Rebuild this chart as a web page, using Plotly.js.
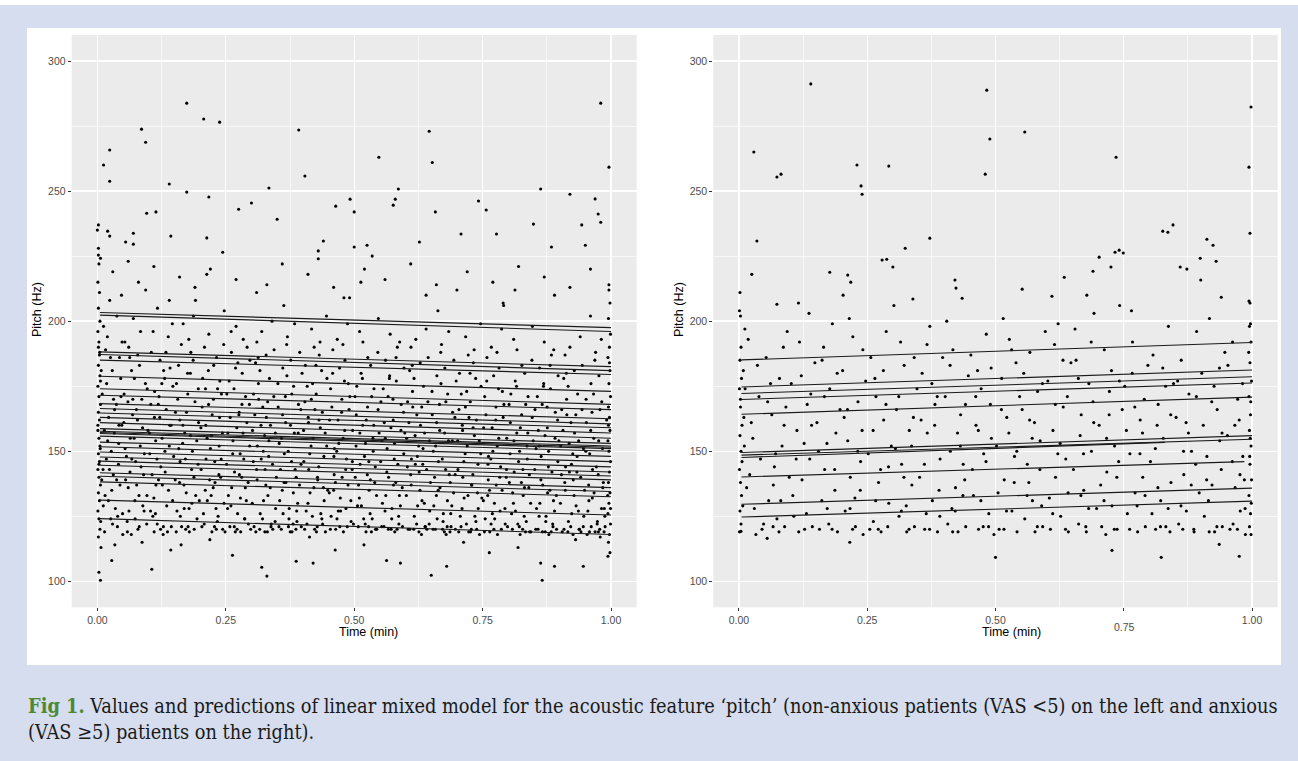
<!DOCTYPE html>
<html>
<head>
<meta charset="utf-8">
<script src="https://cdn.plot.ly/plotly-3.0.1.min.js"></script>
<style>
html,body{margin:0;padding:0;background:#ffffff;}
#chart{width:1298px;height:761px;}
</style>
</head>
<body>
<div id="chart"></div>
<script>
// ---------- DATA ----------
// Left panel (non-anxious, VAS < 5): [time (min), pitch (Hz)]
const leftPoints = [
// start strip
[0.002,228],[0.003,222],[0.001,215],[0.004,211],[0.002,205],[0.005,200],[0.001,196],[0.003,192],[0.004,187],[0.002,183],[0.005,179],[0.001,175],[0.003,171],[0.006,168],[0.002,165],[0.004,162],[0.001,158],[0.003,155],[0.005,152],[0.002,149],[0.004,146],[0.001,143],[0.003,140],[0.006,137],[0.002,134],[0.004,131],[0.001,127],[0.003,124],[0.005,120],[0.002,117],[0.007,113],[0.001,160],[0.006,177],[0.003,145],[0.002,190],
[0.012,198],[0.018,176],[0.022,163],[0.027,150],[0.031,141],[0.035,128],[0.039,121],[0.043,186],[0.046,171],[0.015,133],[0.024,208],[0.033,157],[0.041,145],[0.048,192],[0.014,119],[0.029,181],[0.037,168],[0.044,137],[0.02,154],[0.026,124],[0.047,210],[0.038,202],[0.011,143],[0.034,114],[0.042,160],[0.016,189],[0.028,135],[0.049,126],
[0.052,172],[0.055,139],[0.058,123],[0.061,190],[0.064,155],[0.067,147],[0.07,201],[0.073,131],[0.076,166],[0.079,120],[0.082,183],[0.085,144],[0.088,159],[0.091,127],[0.094,212],[0.097,174],[0.054,151],[0.06,136],[0.066,118],[0.072,178],[0.078,162],[0.084,196],[0.09,141],[0.096,122],[0.063,186],[0.081,133],[0.069,170],[0.087,115],
[0.102,149],[0.105,188],[0.108,125],[0.111,163],[0.114,137],[0.117,205],[0.12,171],[0.123,120],[0.126,155],[0.129,181],[0.132,142],[0.135,129],[0.138,194],[0.141,160],[0.144,121],[0.147,175],[0.104,168],[0.11,132],[0.116,147],[0.122,185],[0.128,118],[0.134,166],[0.14,152],[0.146,199],[0.113,126],[0.131,178],[0.119,139],[0.143,112],
[0.152,165],[0.155,127],[0.158,183],[0.161,146],[0.164,121],[0.167,199],[0.17,157],[0.173,134],[0.176,172],[0.179,119],[0.182,188],[0.185,150],[0.188,140],[0.191,208],[0.194,124],[0.197,161],[0.154,176],[0.16,138],[0.166,153],[0.172,120],[0.178,193],[0.184,130],[0.19,169],[0.196,145],[0.163,114],[0.181,180],[0.169,128],[0.187,202],
[0.202,143],[0.205,178],[0.208,122],[0.211,160],[0.214,131],[0.217,195],[0.22,151],[0.223,119],[0.226,170],[0.229,138],[0.232,186],[0.235,125],[0.238,163],[0.241,147],[0.244,120],[0.247,204],[0.204,167],[0.21,135],[0.216,181],[0.222,156],[0.228,121],[0.234,174],[0.24,140],[0.246,191],[0.213,218],[0.231,128],[0.219,116],[0.237,152],
[0.252,172],[0.255,133],[0.258,121],[0.261,188],[0.264,154],[0.267,142],[0.27,198],[0.273,126],[0.276,165],[0.279,119],[0.282,180],[0.285,147],[0.288,136],[0.291,161],[0.294,122],[0.297,185],[0.254,157],[0.26,129],[0.266,174],[0.272,120],[0.278,149],[0.284,193],[0.29,131],[0.296,168],[0.263,110],[0.281,140],[0.269,182],[0.287,124],
[0.302,158],[0.305,121],[0.308,184],[0.311,139],[0.314,170],[0.317,126],[0.32,196],[0.323,150],[0.326,119],[0.329,163],[0.332,133],[0.335,178],[0.338,121],[0.341,145],[0.344,189],[0.347,128],[0.304,172],[0.31,143],[0.316,120],[0.322,167],[0.328,137],[0.334,154],[0.34,200],[0.346,123],[0.313,186],[0.331,119],[0.319,147],[0.337,160],
[0.352,167],[0.355,131],[0.358,120],[0.361,182],[0.364,149],[0.367,138],[0.37,194],[0.373,124],[0.376,160],[0.379,119],[0.382,175],[0.385,143],[0.388,127],[0.391,157],[0.394,188],[0.397,121],[0.354,153],[0.36,135],[0.366,171],[0.372,121],[0.378,146],[0.384,199],[0.39,130],[0.396,166],[0.363,206],[0.381,122],[0.369,179],[0.387,140],
[0.402,146],[0.405,183],[0.408,122],[0.411,161],[0.414,134],[0.417,197],[0.42,155],[0.423,120],[0.426,172],[0.429,139],[0.432,187],[0.435,126],[0.438,165],[0.441,148],[0.444,119],[0.447,178],[0.404,169],[0.41,130],[0.416,152],[0.422,190],[0.428,121],[0.434,159],[0.44,136],[0.446,202],[0.413,117],[0.431,144],[0.419,176],[0.437,124],
[0.452,162],[0.455,125],[0.458,180],[0.461,141],[0.464,120],[0.467,193],[0.47,153],[0.473,132],[0.476,170],[0.479,119],[0.482,185],[0.485,147],[0.488,137],[0.491,209],[0.494,123],[0.497,158],[0.454,174],[0.46,135],[0.466,150],[0.472,121],[0.478,191],[0.484,128],[0.49,166],[0.496,143],[0.463,112],[0.481,177],[0.469,127],[0.487,199],
[0.502,140],[0.505,175],[0.508,121],[0.511,157],[0.514,129],[0.517,192],[0.52,148],[0.523,119],[0.526,167],[0.529,135],[0.532,183],[0.535,124],[0.538,160],[0.541,144],[0.544,120],[0.547,201],[0.504,164],[0.51,132],[0.516,178],[0.522,153],[0.528,121],[0.534,171],[0.54,138],[0.546,188],[0.513,215],[0.531,126],[0.519,114],[0.537,150],
[0.552,169],[0.555,130],[0.558,121],[0.561,185],[0.564,151],[0.567,140],[0.57,195],[0.573,124],[0.576,162],[0.579,119],[0.582,177],[0.585,145],[0.588,133],[0.591,158],[0.594,121],[0.597,182],[0.554,154],[0.56,127],[0.566,171],[0.572,120],[0.578,147],[0.584,190],[0.59,129],[0.596,165],[0.563,108],[0.581,138],[0.569,179],[0.587,122],
[0.602,155],[0.605,120],[0.608,181],[0.611,137],[0.614,167],[0.617,125],[0.62,193],[0.623,148],[0.626,119],[0.629,160],[0.632,131],[0.635,175],[0.638,121],[0.641,143],[0.644,186],[0.647,127],[0.604,169],[0.61,141],[0.616,120],[0.622,164],[0.628,135],[0.634,151],[0.64,197],[0.646,122],[0.613,183],[0.631,118],[0.619,145],[0.637,157],
[0.652,164],[0.655,129],[0.658,120],[0.661,179],[0.664,146],[0.667,136],[0.67,191],[0.673,123],[0.676,157],[0.679,118],[0.682,172],[0.685,141],[0.688,126],[0.691,154],[0.694,185],[0.697,120],[0.654,150],[0.66,133],[0.666,168],[0.672,120],[0.678,143],[0.684,196],[0.69,129],[0.696,163],[0.663,204],[0.681,121],[0.669,176],[0.687,138],
[0.702,143],[0.705,180],[0.708,121],[0.711,158],[0.714,132],[0.717,194],[0.72,152],[0.723,119],[0.726,169],[0.729,137],[0.732,184],[0.735,125],[0.738,162],[0.741,145],[0.744,118],[0.747,175],[0.704,166],[0.71,128],[0.716,149],[0.722,187],[0.728,120],[0.734,156],[0.74,134],[0.746,199],[0.713,115],[0.731,141],[0.719,173],[0.737,123],
[0.752,159],[0.755,124],[0.758,177],[0.761,139],[0.764,119],[0.767,190],[0.77,150],[0.773,130],[0.776,167],[0.779,118],[0.782,182],[0.785,144],[0.788,135],[0.791,206],[0.794,122],[0.797,155],[0.754,171],[0.76,133],[0.766,147],[0.772,120],[0.778,188],[0.784,127],[0.79,163],[0.796,140],[0.763,111],[0.781,174],[0.769,126],[0.787,197],
[0.802,138],[0.805,172],[0.808,120],[0.811,154],[0.814,127],[0.817,189],[0.82,146],[0.823,118],[0.826,164],[0.829,133],[0.832,180],[0.835,123],[0.838,157],[0.841,141],[0.844,119],[0.847,198],[0.804,161],[0.81,130],[0.816,175],[0.822,150],[0.828,120],[0.834,168],[0.84,136],[0.846,185],[0.813,212],[0.831,125],[0.819,113],[0.837,147],
[0.852,166],[0.855,128],[0.858,120],[0.861,182],[0.864,148],[0.867,137],[0.87,192],[0.873,123],[0.876,159],[0.879,118],[0.882,174],[0.885,142],[0.888,131],[0.891,155],[0.894,120],[0.897,179],[0.854,151],[0.86,125],[0.866,168],[0.872,119],[0.878,144],[0.884,187],[0.89,127],[0.896,162],[0.863,107],[0.881,135],[0.869,176],[0.887,121],
[0.902,152],[0.905,119],[0.908,178],[0.911,135],[0.914,164],[0.917,123],[0.92,190],[0.923,145],[0.926,118],[0.929,157],[0.932,129],[0.935,172],[0.938,120],[0.941,140],[0.944,183],[0.947,125],[0.904,166],[0.91,138],[0.916,119],[0.922,161],[0.928,133],[0.934,148],[0.94,194],[0.946,121],[0.913,180],[0.931,116],[0.919,142],[0.937,154],
[0.952,161],[0.955,127],[0.958,119],[0.961,176],[0.964,143],[0.967,134],[0.97,188],[0.973,122],[0.976,154],[0.979,117],[0.982,169],[0.985,138],[0.988,125],[0.951,150],[0.957,131],[0.963,165],[0.969,119],[0.975,141],[0.981,193],[0.987,128],[0.96,202],[0.978,120],[0.966,172],[0.984,136],
// end strip
[0.996,214],[0.998,207],[0.995,201],[0.999,195],[0.997,190],[0.994,186],[0.998,181],[0.996,176],[0.999,171],[0.995,167],[0.997,163],[0.998,158],[0.994,154],[0.996,150],[0.999,146],[0.997,142],[0.995,138],[0.998,134],[0.996,130],[0.994,126],[0.999,122],[0.997,118],[0.995,115],[0.998,111],[0.996,212],[0.997,184],[0.995,160],[0.999,128],
// 205-225 zone
[0.03,219],[0.08,215],[0.11,221],[0.16,217],[0.19,213],[0.22,220],[0.27,216],[0.33,214],[0.36,222],[0.41,218],[0.46,213],[0.52,220],[0.56,216],[0.61,222],[0.66,214],[0.72,219],[0.77,215],[0.82,221],[0.87,217],[0.92,213],[0.96,220],[0.14,208],[0.31,211],[0.48,209],[0.64,210],[0.79,207],[0.89,210],[0.06,223],[0.43,224],[0.7,212],
// high and low outliers
[0.003,103.5],[0.006,100.4],[0.028,108],[0.106,104.6],[0.32,105.4],[0.33,102],[0.387,107.7],[0.42,107],[0.59,107],[0.65,102.3],[0.68,105.8],[0.866,100.4],[0.89,105.8],[0.946,105.8],[0.994,109.6],
[0.174,283.8],[0.207,277.7],[0.238,276.5],[0.086,273.8],[0.094,268.8],[0.392,273.5],[0.646,273],[0.012,260],[0.024,265.8],[0.024,253.8],[0.652,261],[0.548,263],[0.14,252.7],[0.174,249.6],[0.217,247.7],[0.334,251.2],[0.404,255.8],[0.586,250.8],[0.58,246.9],[0.576,244.6],[0.492,246.9],[0.464,244.2],[0.5,242],[0.30,245.4],[0.275,243],[0.096,241.5],[0.114,242],[0.35,239.2],[0.658,242],[0.742,246.2],[0.757,242.7],[0.863,250.8],[0.92,248.8],[0.969,247],[0.98,238],[0.98,283.8],[0.996,259.2],
[0.0,235],[0.002,237],[0.006,224.2],[0.002,225.4],[0.02,234.6],[0.024,232.7],[0.055,230.4],[0.07,229.6],[0.07,233.8],[0.143,232.7],[0.213,232],[0.244,226.5],[0.43,227],[0.44,230.8],[0.5,228.5],[0.525,229.2],[0.535,225],[0.627,230.4],[0.708,233.5],[0.777,233.5],[0.849,237.3],[0.884,228.5],[0.943,237],[0.95,229.2],[0.975,241.2]
];

// Further left-panel points in the dense band
const leftPointsDense = [
[0.0095,172],[0.0135,158],[0.0175,147],[0.0215,131],[0.0255,186],[0.0295,122],[0.0335,166],[0.0375,139],[0.0415,153],[0.0455,178],[0.0495,118],[0.0115,129],[0.0195,194],[0.0235,143],[0.0315,170],[0.0395,125],[0.0475,160],[0.0075,181],[0.0055,151],[0.0085,139],[0.0065,123],[0.0045,188],
[0.0515,161],[0.0565,148],[0.0615,127],[0.0665,181],[0.0715,155],[0.0765,137],[0.0815,121],[0.0865,170],[0.0915,149],[0.0965,133],[0.0535,192],[0.0585,119],[0.0635,142],[0.0685,164],[0.0735,124],[0.0785,187],[0.0835,152],[0.0885,129],[0.0935,176],[0.0985,158],[0.0595,169],[0.0745,146],
[0.1015,157],[0.1065,141],[0.1115,173],[0.1165,122],[0.1215,163],[0.1265,137],[0.1315,150],[0.1365,119],[0.1415,182],[0.1465,131],[0.1035,127],[0.1085,196],[0.1135,154],[0.1185,168],[0.1235,144],[0.1285,121],[0.1335,188],[0.1385,135],[0.1435,160],[0.1485,148],[0.1255,176],[0.1105,119],
[0.1515,139],[0.1565,170],[0.1615,125],[0.1665,160],[0.1715,147],[0.1765,121],[0.1815,156],[0.1865,185],[0.1915,133],[0.1965,174],[0.1535,119],[0.1585,151],[0.1635,191],[0.1685,137],[0.1735,165],[0.1785,128],[0.1835,143],[0.1885,120],[0.1935,154],[0.1985,131],[0.1755,180],[0.1605,162],
[0.2015,159],[0.2065,126],[0.2115,147],[0.2165,168],[0.2215,133],[0.2265,183],[0.2315,120],[0.2365,141],[0.2415,172],[0.2465,130],[0.2035,121],[0.2085,190],[0.2135,155],[0.2185,139],[0.2235,164],[0.2285,146],[0.2335,123],[0.2385,177],[0.2435,157],[0.2485,119],[0.2255,136],[0.2105,174],
[0.2515,145],[0.2565,177],[0.2615,136],[0.2665,121],[0.2715,159],[0.2765,141],[0.2815,168],[0.2865,124],[0.2915,190],[0.2965,152],[0.2535,128],[0.2585,163],[0.2635,149],[0.2685,119],[0.2735,184],[0.2785,132],[0.2835,157],[0.2885,171],[0.2935,138],[0.2985,120],[0.2755,164],[0.2605,196],
[0.3015,130],[0.3065,164],[0.3115,152],[0.3165,181],[0.3215,124],[0.3265,143],[0.3315,169],[0.3365,136],[0.3415,120],[0.3465,157],[0.3035,146],[0.3085,119],[0.3135,176],[0.3185,160],[0.3235,131],[0.3285,187],[0.3335,148],[0.3385,122],[0.3435,171],[0.3485,140],[0.3255,156],[0.3105,192],
[0.3515,176],[0.3565,143],[0.3615,126],[0.3665,161],[0.3715,150],[0.3765,185],[0.3815,134],[0.3865,120],[0.3915,168],[0.3965,145],[0.3535,121],[0.3585,155],[0.3635,138],[0.3685,191],[0.3735,128],[0.3785,172],[0.3835,157],[0.3885,123],[0.3935,137],[0.3985,180],[0.3755,119],[0.3605,164],
[0.4015,158],[0.4065,127],[0.4115,143],[0.4165,170],[0.4215,136],[0.4265,119],[0.4315,162],[0.4365,181],[0.4415,131],[0.4465,152],[0.4035,120],[0.4085,175],[0.4135,149],[0.4185,125],[0.4235,166],[0.4285,140],[0.4335,192],[0.4385,122],[0.4435,157],[0.4485,135],[0.4255,183],[0.4105,163],
[0.4515,134],[0.4565,167],[0.4615,151],[0.4665,124],[0.4715,182],[0.4765,140],[0.4815,158],[0.4865,121],[0.4915,171],[0.4965,146],[0.4535,120],[0.4585,189],[0.4635,138],[0.4685,162],[0.4735,127],[0.4785,155],[0.4835,143],[0.4885,176],[0.4935,131],[0.4985,122],[0.4755,165],[0.4605,148],
[0.5015,171],[0.5065,129],[0.5115,145],[0.5165,160],[0.5215,122],[0.5265,186],[0.5315,139],[0.5365,155],[0.5415,120],[0.5465,166],[0.5035,152],[0.5085,137],[0.5135,180],[0.5185,124],[0.5235,162],[0.5285,146],[0.5335,119],[0.5385,174],[0.5435,133],[0.5485,157],[0.5255,141],[0.5105,196],
[0.5515,146],[0.5565,174],[0.5615,133],[0.5665,120],[0.5715,159],[0.5765,137],[0.5815,186],[0.5865,125],[0.5915,168],[0.5965,149],[0.5535,121],[0.5585,161],[0.5635,142],[0.5685,178],[0.5735,128],[0.5785,153],[0.5835,120],[0.5885,192],[0.5935,136],[0.5985,157],[0.5755,170],[0.5605,155],
[0.6015,133],[0.6065,161],[0.6115,147],[0.6165,178],[0.6215,122],[0.6265,142],[0.6315,167],[0.6365,130],[0.6415,120],[0.6465,154],[0.6035,144],[0.6085,120],[0.6135,173],[0.6185,156],[0.6235,129],[0.6285,184],[0.6335,145],[0.6385,121],[0.6435,169],[0.6485,138],[0.6255,152],[0.6105,190],
[0.6515,173],[0.6565,140],[0.6615,124],[0.6665,158],[0.6715,147],[0.6765,182],[0.6815,131],[0.6865,119],[0.6915,165],[0.6965,141],[0.6535,120],[0.6585,152],[0.6635,135],[0.6685,188],[0.6735,126],[0.6785,169],[0.6835,154],[0.6885,121],[0.6935,134],[0.6985,177],[0.6755,119],[0.6605,161],
[0.7015,154],[0.7065,125],[0.7115,140],[0.7165,167],[0.7215,133],[0.7265,119],[0.7315,159],[0.7365,178],[0.7415,128],[0.7465,149],[0.7035,119],[0.7085,172],[0.7135,146],[0.7185,122],[0.7235,163],[0.7285,137],[0.7335,189],[0.7385,120],[0.7435,154],[0.7485,132],[0.7255,180],[0.7105,160],
[0.7515,131],[0.7565,164],[0.7615,148],[0.7665,122],[0.7715,179],[0.7765,137],[0.7815,155],[0.7865,120],[0.7915,168],[0.7965,143],[0.7535,119],[0.7585,186],[0.7635,135],[0.7685,159],[0.7735,124],[0.7785,152],[0.7835,140],[0.7885,173],[0.7935,128],[0.7985,121],[0.7755,162],[0.7605,145],
[0.8015,168],[0.8065,126],[0.8115,142],[0.8165,157],[0.8215,121],[0.8265,183],[0.8315,136],[0.8365,152],[0.8415,119],[0.8465,163],[0.8035,149],[0.8085,134],[0.8135,177],[0.8185,122],[0.8235,159],[0.8285,143],[0.8335,119],[0.8385,171],[0.8435,130],[0.8485,154],[0.8255,138],[0.8105,193],
[0.8515,143],[0.8565,171],[0.8615,130],[0.8665,119],[0.8715,156],[0.8765,134],[0.8815,183],[0.8865,122],[0.8915,165],[0.8965,146],[0.8535,120],[0.8585,158],[0.8635,139],[0.8685,175],[0.8735,125],[0.8785,150],[0.8835,119],[0.8885,189],[0.8935,133],[0.8985,154],[0.8755,167],[0.8605,152],
[0.9015,130],[0.9065,158],[0.9115,144],[0.9165,175],[0.9215,121],[0.9265,139],[0.9315,164],[0.9365,127],[0.9415,119],[0.9465,151],[0.9035,141],[0.9085,120],[0.9135,170],[0.9185,153],[0.9235,126],[0.9285,181],[0.9335,142],[0.9385,120],[0.9435,166],[0.9485,135],[0.9255,149],[0.9105,187],
[0.9515,170],[0.9565,137],[0.9615,121],[0.9665,155],[0.9715,144],[0.9765,179],[0.9815,128],[0.9865,119],[0.9915,162],[0.9535,118],[0.9585,149],[0.9635,132],[0.9685,185],[0.9735,123],[0.9785,166],[0.9835,151],[0.9885,121],[0.9935,133],[0.9755,119],[0.9605,158]
];

// Right panel (anxious, VAS >= 5): [time (min), pitch (Hz)]
const rightPoints = [
[0.002,211],[0.001,204],[0.003,202],[0.004,190],[0.002,185],[0.005,178],[0.001,174],[0.003,167],[0.006,160],[0.002,156],[0.004,150],[0.001,143],[0.003,138],[0.005,133],[0.002,127],[0.004,122],[0.001,119],[0.006,146],[0.003,170],
[0.012,174],[0.018,193],[0.024,161],[0.03,128],[0.036,183],[0.042,147],[0.048,122],[0.015,136],[0.027,155],[0.039,171],[0.045,120],[0.021,141],[0.033,118],
[0.053,186],[0.058,131],[0.064,164],[0.069,144],[0.074,124],[0.079,178],[0.084,152],[0.089,121],[0.094,196],[0.056,169],[0.067,137],[0.078,119],[0.088,160],[0.098,140],
[0.102,176],[0.107,125],[0.113,158],[0.118,192],[0.123,139],[0.128,120],[0.133,168],[0.138,147],[0.143,121],[0.148,184],[0.105,133],[0.116,207],[0.127,153],[0.14,172],
[0.152,161],[0.157,120],[0.162,185],[0.167,143],[0.172,128],[0.177,174],[0.182,199],[0.187,135],[0.192,119],[0.197,166],[0.155,150],[0.165,190],[0.175,122],[0.189,157],
[0.202,181],[0.207,127],[0.212,154],[0.217,140],[0.222,194],[0.227,121],[0.232,169],[0.237,146],[0.242,118],[0.247,177],[0.205,163],[0.215,201],[0.226,132],[0.24,158],
[0.252,149],[0.257,186],[0.262,123],[0.267,171],[0.272,138],[0.277,119],[0.282,162],[0.287,196],[0.292,130],[0.297,152],[0.255,120],[0.265,178],[0.276,143],[0.29,121],
[0.302,206],[0.307,166],[0.312,125],[0.317,145],[0.322,183],[0.327,119],[0.332,158],[0.337,137],[0.342,121],[0.347,174],[0.305,151],[0.315,192],[0.326,129],[0.34,163],
[0.352,140],[0.357,180],[0.362,120],[0.367,157],[0.372,198],[0.377,131],[0.382,168],[0.387,119],[0.392,147],[0.397,186],[0.355,162],[0.365,126],[0.376,176],[0.39,135],
[0.402,171],[0.407,122],[0.412,150],[0.417,189],[0.422,136],[0.427,119],[0.432,164],[0.437,145],[0.442,121],[0.447,179],[0.405,200],[0.415,128],[0.426,157],[0.44,139],
[0.452,187],[0.457,133],[0.462,160],[0.467,120],[0.472,174],[0.477,149],[0.482,195],[0.487,126],[0.492,155],[0.497,118],[0.455,143],[0.465,181],[0.476,121],[0.49,168],
[0.502,152],[0.507,120],[0.512,178],[0.517,139],[0.522,163],[0.527,193],[0.532,127],[0.537,148],[0.542,119],[0.547,171],[0.505,134],[0.515,201],[0.526,157],[0.54,184],
[0.552,166],[0.557,124],[0.562,145],[0.567,188],[0.572,131],[0.577,119],[0.582,173],[0.587,154],[0.592,121],[0.597,196],[0.555,180],[0.565,138],[0.576,161],[0.59,129],
[0.602,177],[0.607,120],[0.612,158],[0.617,140],[0.622,199],[0.627,125],[0.632,167],[0.637,147],[0.642,119],[0.647,184],[0.605,132],[0.615,191],[0.626,153],[0.64,171],
[0.652,143],[0.657,185],[0.662,122],[0.667,164],[0.672,135],[0.677,119],[0.682,176],[0.687,150],[0.692,203],[0.697,128],[0.655,197],[0.665,156],[0.676,121],[0.69,169],
[0.702,160],[0.707,121],[0.712,189],[0.717,142],[0.722,173],[0.727,129],[0.732,152],[0.737,120],[0.742,206],[0.747,166],[0.705,137],[0.715,118],[0.726,181],[0.74,146],
[0.752,175],[0.757,126],[0.762,149],[0.767,192],[0.772,134],[0.777,119],[0.782,162],[0.787,140],[0.792,121],[0.797,183],[0.755,158],[0.765,204],[0.776,129],[0.79,170],
[0.802,146],[0.807,187],[0.812,120],[0.817,168],[0.822,131],[0.827,155],[0.832,121],[0.837,198],[0.842,138],[0.847,176],[0.805,126],[0.815,160],[0.826,182],[0.84,119],
[0.852,163],[0.857,122],[0.862,185],[0.867,141],[0.872,127],[0.877,172],[0.882,150],[0.887,119],[0.892,196],[0.897,134],[0.855,177],[0.865,120],[0.876,157],[0.89,145],
[0.902,180],[0.907,125],[0.912,148],[0.917,201],[0.922,137],[0.927,119],[0.932,166],[0.937,154],[0.942,121],[0.947,188],[0.905,160],[0.915,131],[0.926,175],[0.94,143],
[0.952,156],[0.957,120],[0.962,192],[0.967,136],[0.972,170],[0.977,127],[0.982,148],[0.987,118],[0.953,183],[0.963,122],[0.975,162],[0.985,139],
[0.997,199],[0.995,198],[0.998,192],[0.996,184],[0.999,177],[0.994,171],[0.997,164],[0.995,158],[0.998,152],[0.996,145],[0.999,139],[0.994,133],[0.997,126],[0.995,121],[0.998,118],[0.996,207],
// outliers
[0.14,291.2],[0.483,288.8],[0.029,265],[0.489,270],[0.557,272.7],[0.082,256.5],[0.074,255.4],[0.23,260],[0.238,252],[0.24,248.8],[0.292,259.6],[0.48,256.5],[0.735,263],[0.998,282.3],[0.994,259.2],
[0.035,230.8],[0.372,231.9],[0.324,228],[0.025,218],[0.074,206.5],[0.177,218.8],[0.212,217.7],[0.218,215],[0.288,223.8],[0.279,223.5],[0.3,220.8],[0.203,210],[0.339,208.5],[0.421,215.8],[0.423,212.7],[0.435,208.8],[0.552,212.3],[0.61,209.6],[0.634,216.9],[0.702,224.6],[0.69,219.2],[0.733,226.5],[0.741,227.3],[0.749,226.2],[0.725,220.8],[0.826,234.6],[0.836,234.2],[0.846,237],[0.86,220.8],[0.873,220],[0.912,231.5],[0.924,229.2],[0.899,224.2],[0.93,223],[0.996,233.8],[0.994,207.7],[0.678,210],[0.9,215.8],[0.94,209.2],
[0.004,119.2],[0.055,116.5],[0.216,115],[0.5,109.2],[0.727,111.9],[0.823,109.2],[0.975,109.6],[0.936,114.2]
];

// Further right-panel points
const rightPointsDense = [
[0.0085,181],[0.0095,163],[0.0075,129],[0.0105,152],[0.0115,197],
[0.0615,176],[0.0715,149],[0.0815,131],[0.0915,167],[0.0665,121],[0.0865,190],
[0.1115,147],[0.1215,179],[0.1315,126],[0.1415,160],[0.1165,119],[0.1365,203],
[0.1615,131],[0.1715,153],[0.1815,120],[0.1915,180],[0.1665,171],[0.1865,143],
[0.2115,166],[0.2215,120],[0.2315,150],[0.2415,189],[0.2165,128],[0.2365,135],
[0.2615,158],[0.2715,120],[0.2815,181],[0.2915,144],[0.2665,131],[0.2865,168],
[0.3115,171],[0.3215,140],[0.3315,120],[0.3415,186],[0.3165,127],[0.3365,152],
[0.3615,145],[0.3715,120],[0.3815,160],[0.3915,125],[0.3665,191],[0.3865,171],
[0.4115,183],[0.4215,127],[0.4315,152],[0.4415,168],[0.4165,119],[0.4365,133],
[0.4615,171],[0.4715,131],[0.4815,146],[0.4915,182],[0.4665,158],[0.4865,121],
[0.5115,166],[0.5215,127],[0.5315,189],[0.5415,150],[0.5165,120],[0.5365,138],
[0.5615,133],[0.5715,155],[0.5815,121],[0.5915,176],[0.5665,162],[0.5865,143],
[0.6115,126],[0.6215,149],[0.6315,185],[0.6415,134],[0.6165,168],[0.6365,120],
[0.6615,178],[0.6715,149],[0.6815,128],[0.6915,161],[0.6665,133],[0.6865,192],
[0.7115,131],[0.7215,164],[0.7315,120],[0.7415,177],[0.7165,155],[0.7365,140],
[0.7615,120],[0.7715,167],[0.7815,149],[0.7915,133],[0.7665,180],[0.7865,157],
[0.8115,151],[0.8215,121],[0.8315,175],[0.8415,164],[0.8165,136],[0.8365,128],
[0.8615,129],[0.8715,161],[0.8815,137],[0.8915,171],[0.8665,150],[0.8865,120],
[0.9115,139],[0.9215,169],[0.9315,121],[0.9415,157],[0.9165,119],[0.9365,182],
[0.9615,146],[0.9715,120],[0.9815,176],[0.9665,160],[0.9765,141],[0.9865,128],
[0.9935,188],[0.9975,169],[0.9955,148],[0.9985,130],[0.9965,155]
];

// Model predictions (one line per patient): pitch at start/end time
const leftLineT0    = [0.005,0.005,0.005,0.005,0.005,0.005,0.005,0.005,0.005,0.005,0.005,0.005,0.005,0.005,0.005,0.005,0.005,0.005,0.005,0.005,0.005,0.005,0.005,0.005,0.005,0.005,0.005,0.005,0.005];
const leftLineT1    = [1.0,1.0,1.0,1.0,1.0,1.0,1.0,1.0,1.0,1.0,1.0,1.0,1.0,1.0,1.0,1.0,1.0,1.0,1.0,1.0,1.0,1.0,1.0,1.0,1.0,1.0,1.0,1.0,1.0];
const leftLineStart = [203.3,202.3,188.2,187.2,185,178.8,174,171.5,168.3,166.4,164.7,163,161,158.7,157.7,157.2,156.8,155.8,153.5,151.7,149.7,147.8,146.2,144.6,141.7,140.4,138.2,131.2,124.1];
const leftLineEnd   = [197.5,196,182.5,181,179.5,173,168,166,162.5,160.5,159,157,155,153,152,151.5,151,150,148,146,144,142,140.5,139,136,134.5,132.5,125.5,118];

const rightLineT0    = [0.005,0.005,0.005,0.005,0.005,0.005,0.005,0.005,0.005,0.005,0.005];
const rightLineT1    = [1.0,1.0,1.0,1.0,1.0,1.0,1.0,0.83,0.985,1.0,1.0];
const rightLineStart = [185.1,174.7,172.2,169.9,164.2,149.5,148.5,147.6,140.1,129.6,124.7];
const rightLineEnd   = [191.8,181.2,178.6,176.2,170.8,156,154.6,153.4,146,135.8,130.8];

const xTickVals = [0, 0.25, 0.5, 0.75, 1];
const xTickText = ['0.00', '0.25', '0.50', '0.75', '1.00'];
const yTickVals = [100, 150, 200, 250, 300];
const yTickText = ['100', '150', '200', '250', '300'];

// ---------- BUILD ----------
function lineTrace(t0, t1, s, e, xa, ya) {
  const x = [], y = [];
  for (let i = 0; i < s.length; i++) {
    x.push(t0[i], t1[i], null);
    y.push(s[i], e[i], null);
  }
  return {type:'scatter', mode:'lines', x, y, xaxis:xa, yaxis:ya,
          line:{color:'#1a1a1a', width:1.1}, hoverinfo:'skip', showlegend:false};
}
function pointTrace(pts, xa, ya) {
  return {type:'scatter', mode:'markers', x:pts.map(p=>p[0]), y:pts.map(p=>p[1]),
          xaxis:xa, yaxis:ya, marker:{color:'#000', size:3.1}, hoverinfo:'skip', showlegend:false};
}

const W = 1298, H = 761;
const px = v => v / W;
const py = v => 1 - v / H;

const tickFont = {family:'Liberation Sans, Arial, sans-serif', size:10.5, color:'#4d4d4d'};
function xAxis(domain, anchor, text) {
  return {domain, anchor, range:[-0.05,1.05], tickvals:xTickVals, ticktext:text,
    showgrid:true, gridcolor:'#ffffff', gridwidth:1.3, zeroline:false, showline:false,
    ticks:'outside', ticklen:3, tickwidth:1, tickcolor:'#333333', tickfont:tickFont,
    minor:{tickvals:[0.125,0.375,0.625,0.875], showgrid:true, gridcolor:'#ffffff', gridwidth:0.6, ticks:''},
    fixedrange:true, automargin:false};
}
function yAxis(domain, anchor) {
  return {domain, anchor, range:[90,310], tickvals:yTickVals, ticktext:yTickText,
    showgrid:true, gridcolor:'#ffffff', gridwidth:1.3, zeroline:false, showline:false,
    ticks:'outside', ticklen:3, tickwidth:1, tickcolor:'#333333', tickfont:tickFont,
    minor:{tickvals:[125,175,225,275], showgrid:true, gridcolor:'#ffffff', gridwidth:0.6, ticks:''},
    fixedrange:true, automargin:false};
}

const yDom = [py(607.3), py(35)];
const data = [
  pointTrace(leftPoints.concat(leftPointsDense), 'x', 'y'),
  lineTrace(leftLineT0, leftLineT1, leftLineStart, leftLineEnd, 'x', 'y'),
  pointTrace(rightPoints.concat(rightPointsDense), 'x2', 'y2'),
  lineTrace(rightLineT0, rightLineT1, rightLineStart, rightLineEnd, 'x2', 'y2')
];

const titleFont = {family:'Liberation Sans, Arial, sans-serif', size:12.5, color:'#000'};
const capFont = {family:'DejaVu Serif Condensed, Liberation Serif, serif', size:19.8, color:'#1a1a1a'};
const BLUE = '#d5ddee';
function rect(x0, x1, y0, y1) {
  return {type:'rect', xref:'paper', yref:'paper', x0:px(x0), x1:px(x1), y0:py(y1), y1:py(y0),
          fillcolor:BLUE, line:{width:0}, layer:'below'};
}

const layout = {
  width:W, height:H, margin:{l:0,r:0,t:0,b:0},
  paper_bgcolor:'#ffffff', plot_bgcolor:'#ebebeb',
  xaxis: xAxis([px(71.7), px(636.7)], 'y', xTickText),
  yaxis: yAxis(yDom, 'x'),
  xaxis2: xAxis([px(713.3), px(1277.7)], 'y2', ['0.00','0.25','0.50','','1.00']),
  yaxis2: yAxis(yDom, 'x2'),
  shapes:[
    rect(0, 1298, 5, 28),
    rect(0, 27, 5, 761),
    rect(1281, 1298, 5, 761),
    rect(0, 1298, 665, 761)
  ],
  annotations:[
    {xref:'paper', yref:'paper', x:px(369), y:py(632), text:'Time (min)', showarrow:false, font:titleFont, xanchor:'center', yanchor:'middle'},
    {xref:'paper', yref:'paper', x:px(1011), y:py(632), text:'Time (min)', showarrow:false, font:titleFont, xanchor:'center', yanchor:'middle'},
    {xref:'paper', yref:'paper', x:px(1124), y:py(626.5), text:'0.75', showarrow:false, font:tickFont, xanchor:'center', yanchor:'middle'},
    {xref:'paper', yref:'paper', x:px(37), y:py(310), text:'Pitch (Hz)', textangle:-90, showarrow:false, font:titleFont, xanchor:'center', yanchor:'middle'},
    {xref:'paper', yref:'paper', x:px(679), y:py(310), text:'Pitch (Hz)', textangle:-90, showarrow:false, font:titleFont, xanchor:'center', yanchor:'middle'},
    {xref:'paper', yref:'paper', x:px(26), y:py(706), xanchor:'left', yanchor:'middle', showarrow:false, font:capFont,
     text:'<span style="color:#4b8a32"><b>Fig 1.</b></span> Values and predictions of linear mixed model for the acoustic feature ‘pitch’ (non-anxious patients (VAS &lt;5) on the left and anxious'},
    {xref:'paper', yref:'paper', x:px(26), y:py(732), xanchor:'left', yanchor:'middle', showarrow:false, font:capFont,
     text:'(VAS ≥5) patients on the right).'}
  ]
};

Plotly.newPlot('chart', data, layout, {staticPlot:true, displayModeBar:false});
</script>
</body>
</html>
